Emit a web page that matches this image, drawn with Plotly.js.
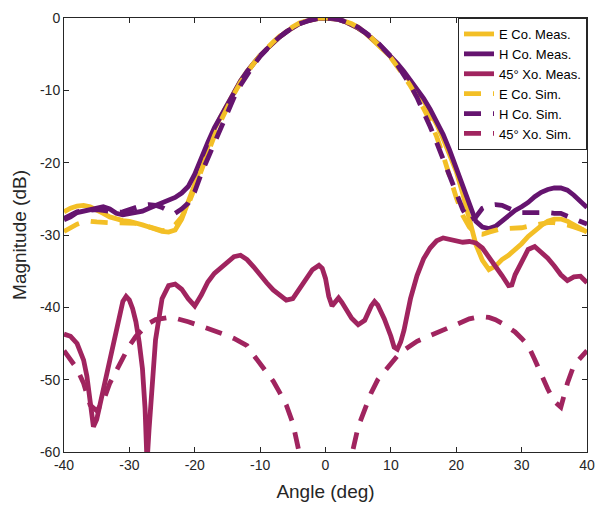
<!DOCTYPE html>
<html>
<head>
<meta charset="utf-8">
<script src="https://cdn.plot.ly/plotly-3.0.1.min.js"></script>
<style>html,body{margin:0;padding:0;background:#fff;}#chart{width:597px;height:509px;}</style>
</head>
<body>
<div id="chart"></div>
<script>
// Angles (deg), 1-degree grid for co-pol curves and cross-pol simulation
const angle = [];
for (let a = -40; a <= 40; a++) angle.push(a);

const eCoMeas = [-26.8,-26.3,-26.0,-25.9,-26.1,-26.5,-27.0,-27.5,-27.8,-28.0,
  -28.1,-28.3,-28.6,-28.9,-29.2,-29.5,-29.6,-29.3,-27.8,-25.5,
  -23.0,-20.2,-17.6,-15.4,-13.6,-11.9,-10.1,-8.7,-7.4,-6.2,
  -5.2,-4.3,-3.4,-2.6,-1.9,-1.3,-0.8,-0.45,-0.2,-0.05,
  0,
  -0.05,-0.2,-0.5,-0.9,-1.4,-2.0,-2.8,-3.6,-4.5,-5.4,
  -6.5,-7.6,-8.8,-10.0,-11.4,-13.0,-14.7,-16.7,-18.9,-21.2,
  -24.3,-28.0,-31.3,-33.5,-34.8,-34.3,-33.4,-32.8,-32.1,-31.2,
  -30.2,-29.4,-28.7,-28.1,-27.8,-27.8,-28.1,-28.6,-29.1,-29.6];

const hCoMeas = [-27.9,-27.5,-26.9,-26.7,-26.6,-26.4,-26.1,-26.4,-27.0,-27.2,
  -27.0,-26.9,-26.7,-26.3,-25.9,-25.6,-25.2,-24.8,-24.2,-23.3,
  -21.6,-19.2,-17.2,-15.2,-13.5,-11.8,-10.1,-8.7,-7.4,-6.2,
  -5.2,-4.3,-3.4,-2.6,-1.9,-1.3,-0.8,-0.45,-0.2,-0.05,
  0,
  -0.05,-0.2,-0.5,-0.9,-1.4,-2.0,-2.7,-3.5,-4.4,-5.3,
  -6.3,-7.4,-8.6,-9.8,-11.1,-12.6,-14.2,-16.1,-18.3,-20.8,
  -23.4,-26.0,-28.1,-28.9,-29.1,-28.8,-28.1,-27.2,-26.6,-26.1,
  -25.5,-24.7,-24.1,-23.7,-23.5,-23.5,-23.8,-24.5,-25.4,-26.2];

const eCoSim = [-29.5,-29.0,-28.5,-28.2,-28.1,-28.2,-28.3,-28.3,-28.3,-28.3,
  -28.3,-28.4,-28.6,-28.9,-29.2,-29.4,-29.3,-28.6,-27.5,-25.8,
  -23.5,-21.0,-18.6,-16.3,-14.2,-12.3,-10.5,-8.9,-7.5,-6.3,
  -5.2,-4.2,-3.3,-2.5,-1.8,-1.2,-0.7,-0.35,-0.15,-0.03,
  0,
  -0.03,-0.15,-0.4,-0.8,-1.3,-1.9,-2.7,-3.5,-4.5,-5.5,
  -6.7,-8.0,-9.4,-10.9,-12.5,-14.3,-16.4,-19.0,-22.0,-24.8,
  -27.3,-28.9,-29.8,-29.9,-29.6,-29.3,-29.1,-29.1,-29.1,-29.0,
  -28.8,-28.6,-28.4,-28.3,-28.3,-28.4,-28.6,-28.9,-29.2,-29.5];

const hCoSim = [-27.7,-27.2,-26.8,-26.6,-26.5,-26.5,-26.6,-26.8,-26.9,-26.8,
  -26.5,-26.1,-25.9,-25.8,-25.9,-26.2,-26.7,-27.0,-26.4,-25.6,
  -24.0,-21.5,-19.4,-17.2,-15.0,-12.9,-11.0,-9.3,-7.8,-6.5,
  -5.3,-4.3,-3.4,-2.6,-1.9,-1.3,-0.8,-0.45,-0.2,-0.05,
  0,
  -0.05,-0.2,-0.45,-0.8,-1.3,-1.9,-2.6,-3.4,-4.3,-5.3,
  -6.5,-7.8,-9.3,-11.0,-12.9,-15.0,-17.2,-19.6,-22.0,-24.4,
  -26.5,-28.0,-27.5,-26.3,-25.9,-25.8,-25.9,-26.3,-26.7,-26.9,
  -26.9,-26.8,-26.8,-26.9,-27.0,-27.0,-27.4,-27.8,-28.2,-28.5];

const xoSim = [-46.0,-47.2,-48.5,-50.5,-53.5,-54.3,-53.0,-50.5,-48.8,-47.0,
  -45.3,-44.0,-43.0,-42.2,-41.7,-41.5,-41.4,-41.5,-41.7,-42.0,
  -42.3,-42.6,-42.9,-43.2,-43.5,-43.9,-44.3,-44.8,-45.3,-46.6,
  -47.8,-49.0,-50.2,-51.8,-53.5,-56.0,-60.2,-66.0,-72.0,-76.0,
  -78.0,
  -76.0,-72.0,-66.0,-60.5,-56.5,-54.2,-51.8,-50.0,-48.9,-47.7,
  -46.7,-45.9,-45.2,-44.7,-44.3,-43.9,-43.6,-43.2,-42.8,-42.4,
  -42.0,-41.6,-41.4,-41.3,-41.4,-41.7,-42.2,-42.8,-43.4,-44.3,
  -45.3,-47.2,-49.3,-51.3,-53.0,-53.8,-50.5,-48.0,-47.0,-46.0];

// 45 deg cross-pol measurement (finer sampling around the nulls)
const xoMeasAngle = [-40,-39,-38,-37,-36.5,-36,-35.5,-35,-34.5,-34,-33,-32,-31,-30.5,-30,-29.5,-29,-28.5,-28,-27.6,-27.3,-27,-26.6,-26,-25,-24,-23,-22,-21,-20,-19,-18,-17,-16,-15,-14,-13,-12,-11,-10,-9,-8,-7,-6,-5,-4,-3,-2,-1,-0.5,0,0.5,1,1.5,2,2.5,3,4,5,6,7,7.5,8,9,10,10.5,11,11.5,12,13,14,15,16,17,18,19,20,21,22,23,24,25,26,27,28,28.5,29,30,31,32,33,34,35,36,37,38,39,40];
const xoMeas = [-43.7,-44.0,-45.0,-47.3,-49.5,-52.5,-56.5,-55.5,-53.5,-51.5,-47.5,-43.0,-39.2,-38.5,-39.0,-40.2,-42.0,-44.8,-48.5,-54.0,-61.5,-57.0,-51.0,-44.5,-38.8,-37.0,-36.8,-37.5,-38.8,-39.8,-38.3,-36.5,-35.3,-34.5,-33.8,-33.0,-32.8,-33.4,-34.4,-35.6,-36.6,-37.6,-38.4,-39.0,-38.8,-37.5,-36.2,-34.8,-34.2,-34.6,-36.0,-38.5,-39.8,-39.2,-38.7,-39.3,-40.1,-41.5,-42.4,-41.8,-39.8,-39.2,-39.7,-41.6,-44.0,-45.5,-45.8,-44.8,-43.2,-38.8,-35.6,-33.3,-31.8,-30.8,-30.4,-30.6,-30.9,-31.0,-30.9,-31.1,-31.8,-33.0,-34.2,-35.6,-37.0,-36.9,-35.5,-33.8,-32.0,-31.6,-32.4,-33.2,-34.3,-35.5,-36.3,-35.8,-35.7,-36.6];

const names = ["E Co. Meas.", "H Co. Meas.", "45\u00b0 Xo. Meas.", "E Co. Sim.", "H Co. Sim.", "45\u00b0 Xo. Sim."];
const xTicks = [-40,-30,-20,-10,0,10,20,30,40];
const xTickText = ["-40","-30","-20","-10","0","10","20","30","40"];
const yTicks = [-60,-50,-40,-30,-20,-10,0];
const yTickText = ["-60","-50","-40","-30","-20","-10","0"];

const cE = "#F3BF26", cH = "#65146F", cX = "#A0245F";
const W = 4.8, DASH = "17px,12px";

const traces = [
  {x: angle, y: eCoMeas, name: names[0], line: {color: cE, width: W}},
  {x: angle, y: hCoMeas, name: names[1], line: {color: cH, width: W}},
  {x: xoMeasAngle, y: xoMeas, name: names[2], line: {color: cX, width: W}},
  {x: angle, y: eCoSim, name: names[3], line: {color: cE, width: W, dash: DASH}},
  {x: angle, y: hCoSim, name: names[4], line: {color: cH, width: W, dash: DASH}},
  {x: angle, y: xoSim, name: names[5], line: {color: cX, width: W, dash: DASH}}
].map(t => Object.assign({type: "scatter", mode: "lines"}, t));

const axisCommon = {
  showline: true, linecolor: "#262626", linewidth: 1, mirror: "ticks",
  ticks: "inside", ticklen: 5, tickcolor: "#262626", tickwidth: 1,
  showgrid: false, zeroline: false,
  tickfont: {family: "Liberation Sans, Arial, sans-serif", size: 14, color: "#262626"}
};

const layout = {
  width: 597, height: 509,
  margin: {l: 64, r: 10, t: 18, b: 57},
  paper_bgcolor: "#fff", plot_bgcolor: "#fff",
  font: {family: "Liberation Sans, Arial, sans-serif", color: "#262626"},
  showlegend: true,
  legend: {
    x: 1, y: 1, xanchor: "right", yanchor: "top",
    bgcolor: "#fff", bordercolor: "#262626", borderwidth: 1,
    font: {family: "Liberation Sans, Arial, sans-serif", size: 13, color: "#000"},
    tracegroupgap: 0, itemwidth: 30
  },
  xaxis: Object.assign({}, axisCommon, {
    range: [-40, 40], tickvals: xTicks, ticktext: xTickText,
    title: {text: "Angle (deg)", font: {size: 19, color: "#262626"}, standoff: 12}
  }),
  yaxis: Object.assign({}, axisCommon, {
    range: [-60, 0], tickvals: yTicks, ticktext: yTickText,
    title: {text: "Magnitude (dB)", font: {size: 19, color: "#262626"}, standoff: 8}
  })
};

Plotly.newPlot("chart", traces, layout, {displayModeBar: false, staticPlot: true});
</script>
</body>
</html>
